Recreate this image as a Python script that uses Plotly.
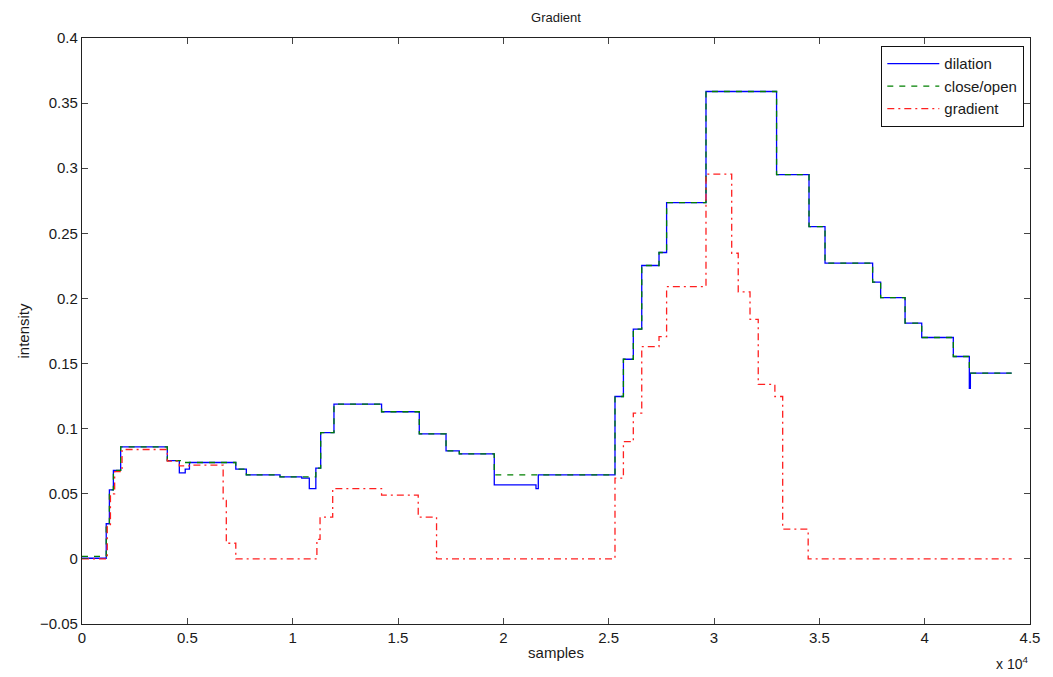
import plotly.graph_objects as go

# ---- data (samples, intensity) ----
dil_x = [0, 1150, 1300, 1490, 1835, 4050, 4620, 4900, 5100, 7300, 7800, 9400, 10430, 10790,
         11100, 11330, 11960, 14220, 16010, 17280, 17910, 19570, 21550, 21660, 25300, 25700,
         26170, 26570, 27390, 27750, 29620, 32970, 34510, 35270, 37530, 37910, 39070, 39860,
         41360, 42120, 42170, 44130]
dil_y = [0.0005, 0.027, 0.053, 0.068, 0.086, 0.0755, 0.066, 0.069, 0.074, 0.069, 0.0645, 0.063,
         0.062, 0.054, 0.0697, 0.097, 0.1188, 0.113, 0.096, 0.083, 0.0806, 0.0568, 0.054, 0.0645,
         0.1247, 0.1533, 0.1764, 0.2253, 0.2353, 0.2736, 0.3589, 0.2951, 0.2552, 0.2271, 0.2125,
         0.2007, 0.181, 0.170, 0.1554, 0.131, 0.1426, 0.1426]

clo_x = [0, 1150, 1300, 1490, 1835, 4050, 4700, 7300, 7800, 9400, 11100, 11330, 11960, 14220,
         16010, 17280, 17910, 19570, 25300, 25700, 26170, 26570, 27390, 27750, 29620, 32970,
         34510, 35270, 37530, 37910, 39070, 39860, 41360, 42120, 44130]
clo_y = [0.002, 0.027, 0.053, 0.068, 0.086, 0.0755, 0.074, 0.069, 0.0645, 0.063, 0.0697, 0.097,
         0.1188, 0.113, 0.096, 0.083, 0.0806, 0.0645, 0.1247, 0.1533, 0.1764, 0.2253, 0.2353,
         0.2736, 0.3589, 0.2951, 0.2552, 0.2271, 0.2125, 0.2007, 0.181, 0.170, 0.1554, 0.1426,
         0.1426]

grad_x = [0, 1200, 1350, 1550, 1900, 4050, 4620, 5100, 6700, 6850, 7300, 11150, 11300, 11900,
          14220, 15960, 16830, 25300, 25700, 26170, 26570, 27390, 27750, 29620, 30840, 31150,
          31710, 32100, 32890, 33260, 34470, 44130]
grad_y = [0.0, 0.025, 0.05, 0.067, 0.084, 0.075, 0.0714, 0.072, 0.045, 0.012, 0.0, 0.015, 0.032,
          0.054, 0.049, 0.032, 0.0, 0.062, 0.09, 0.112, 0.163, 0.1707, 0.209, 0.2954, 0.2347,
          0.205, 0.184, 0.134, 0.1247, 0.0228, 0.0, 0.0]

x_tickvals = [0, 5000, 10000, 15000, 20000, 25000, 30000, 35000, 40000, 45000]
x_ticktext = ["0", "0.5", "1", "1.5", "2", "2.5", "3", "3.5", "4", "4.5"]
y_tickvals = [-0.05, 0, 0.05, 0.1, 0.15, 0.2, 0.25, 0.3, 0.35, 0.4]
y_ticktext = ["\u22120.05", "0", "0.05", "0.1", "0.15", "0.2", "0.25", "0.3", "0.35", "0.4"]

FONT = "Liberation Sans, Arial, sans-serif"
TXT = "#1a1a1a"

# page body has an 8px margin: screen px = figure px + 8
W, H = 1045, 669
L, T = 74, 30
PW, PH = 948, 586

fig = go.Figure()
fig.add_trace(go.Scatter(x=dil_x, y=dil_y, mode="lines", name="dilation",
                         line=dict(color="#0000ff", width=1.3, shape="hv")))
fig.add_trace(go.Scatter(x=clo_x, y=clo_y, mode="lines", name="close/open",
                         line=dict(color="#008000", width=1.3, shape="hv", dash="6px,6px")))
fig.add_trace(go.Scatter(x=grad_x, y=grad_y, mode="lines", name="gradient",
                         line=dict(color="#ff2020", width=1.3, shape="hv", dash="7px,4px,2px,4px")))

axis_common = dict(showline=True, linecolor="#222", linewidth=1.2, mirror="allticks",
                   ticks="inside", ticklen=6, tickcolor="#444", tickwidth=1,
                   showgrid=False, zeroline=False, automargin=False,
                   tickfont=dict(family=FONT, size=15, color=TXT))

fig.update_layout(
    width=W, height=H,
    margin=dict(l=L, r=W - L - PW, t=T, b=H - T - PH, autoexpand=False),
    paper_bgcolor="white", plot_bgcolor="white",
    font=dict(family=FONT, size=15, color=TXT),
    title=dict(text="Gradient", x=0.5, xref="paper", xanchor="center",
               y=1 - (17 - 8) / H, yanchor="middle", font=dict(family=FONT, size=13, color=TXT)),
    xaxis=dict(range=[0, 45000], tickvals=x_tickvals, ticktext=x_ticktext,
               title=dict(text="samples", standoff=2, font=dict(family=FONT, size=15)),
               **axis_common),
    yaxis=dict(range=[-0.05, 0.4], tickvals=y_tickvals, ticktext=y_ticktext,
               title=dict(text="intensity", standoff=6, font=dict(family=FONT, size=15)),
               **axis_common),
    legend=dict(x=(1024 - 8 - L) / PW, y=1 - (46 - 8 - T) / PH, xanchor="right", yanchor="top",
                bgcolor="white", bordercolor="#111", borderwidth=1.3,
                font=dict(family=FONT, size=15, color=TXT),
                tracegroupgap=0, itemwidth=52),
    showlegend=True,
)

fig.add_annotation(text="x 10<sup>4</sup>", xref="paper", yref="paper",
                   x=1.0, y=-(663 - 624) / PH, xanchor="right", yanchor="middle",
                   showarrow=False, font=dict(family=FONT, size=14, color=TXT))

fig.write_html("out.html")
